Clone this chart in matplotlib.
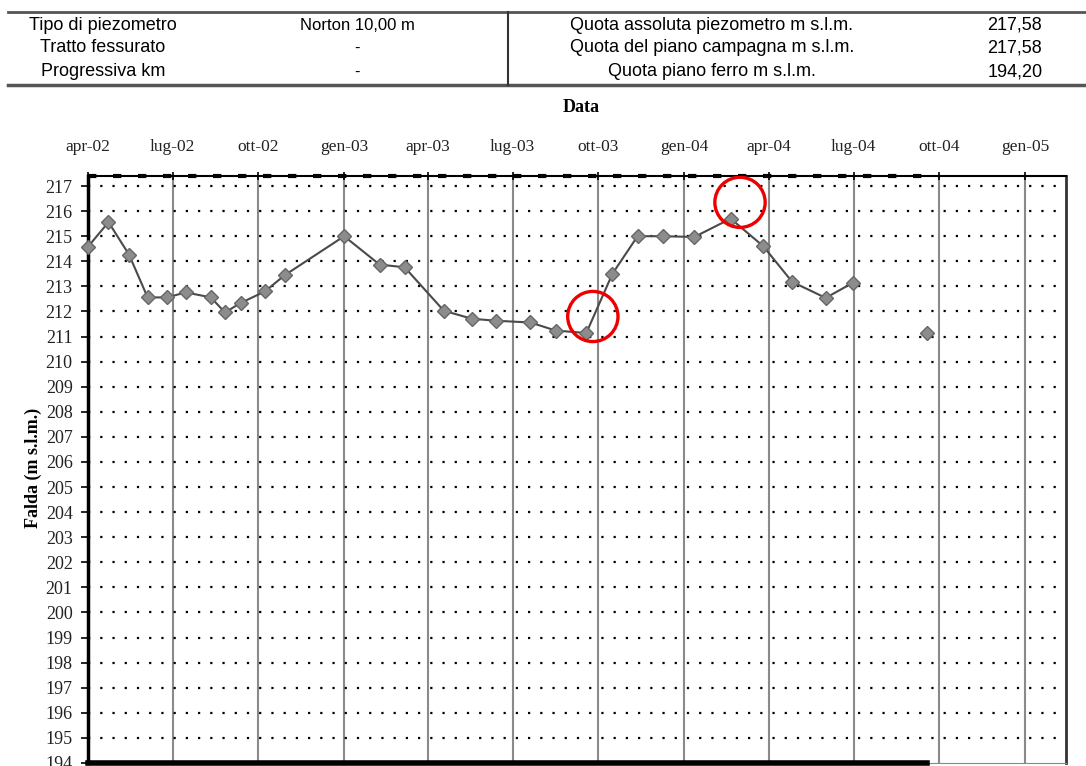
import matplotlib.pyplot as plt
import matplotlib.dates as mdates
from matplotlib.patches import Ellipse
import numpy as np
import pandas as pd

# header table
info_left_labels = ["Tipo di piezometro", "Tratto fessurato", "Progressiva km"]
info_left_values = ["Norton 10,00 m", "-", "-"]
info_right_labels = ["Quota assoluta piezometro m s.l.m.", "Quota del piano campagna m s.l.m.", "Quota piano ferro m s.l.m."]
info_right_values = ["217,58", "217,58", "194,20"]

quota_campagna = 217.58
quota_ferro = 194.20

# piezometer readings (nan = gap in the series)
dates = ["2002-04-01", "2002-04-23", "2002-05-15", "2002-06-04", "2002-06-25",
         "2002-07-15", "2002-08-11", "2002-08-26", "2002-09-12", "2002-10-08",
         "2002-10-29", "2003-01-01", "2003-02-08", "2003-03-07", "2003-04-18",
         "2003-05-18", "2003-06-13", "2003-07-20", "2003-08-16", "2003-09-18",
         "2003-10-16", "2003-11-12", "2003-12-09", "2004-01-12", "2004-02-20",
         "2004-03-26", "2004-04-26", "2004-06-01", "2004-06-30", "2004-08-01",
         "2004-09-18"]
falda = [214.58, 215.56, 214.27, 212.56, 212.56,
         212.76, 212.56, 211.96, 212.34, 212.80,
         213.44, 215.00, 213.87, 213.76, 212.03,
         211.71, 211.63, 211.56, 211.24, 211.14,
         213.50, 215.00, 215.00, 214.97, 215.70,
         214.60, 213.18, 212.54, 213.14, np.nan,
         211.14]

tick_dates = ["2002-04-01", "2002-07-01", "2002-10-01", "2003-01-01", "2003-04-01",
              "2003-07-01", "2003-10-01", "2004-01-01", "2004-04-01", "2004-07-01",
              "2004-10-01", "2005-01-01"]
tick_labels = ["apr-02", "lug-02", "ott-02", "gen-03", "apr-03", "lug-03",
               "ott-03", "gen-04", "apr-04", "lug-04", "ott-04", "gen-05"]

# red circles highlighting two points
circle_dates = ["2003-09-25", "2004-03-01"]
circle_levels = [211.80, 216.35]

dates = pd.to_datetime(dates)
tick_dates = pd.to_datetime(tick_dates)
circle_dates = pd.to_datetime(circle_dates)

fig = plt.figure(figsize=(10.86, 7.66), dpi=100)

# ---- table on top ----
sans = "Liberation Sans"
tab_top = 1 - 12 / 766
tab_bot = 1 - 85 / 766
fig.add_artist(plt.Line2D([8 / 1086, 1], [tab_top, tab_top], color="#555555", lw=2))
fig.add_artist(plt.Line2D([8 / 1086, 1], [tab_bot, tab_bot], color="#555555", lw=2.5))
fig.add_artist(plt.Line2D([508 / 1086, 508 / 1086], [tab_top, tab_bot], color="#333333", lw=1.5))
row_y = [25, 48, 72]
for i in range(3):
    y = 1 - row_y[i] / 766
    fig.text(103 / 1086, y, info_left_labels[i], ha="center", va="center", family=sans, fontsize=13)
    fig.text(357 / 1086, y, info_left_values[i], ha="center", va="center", family=sans, fontsize=12)
    fig.text(712 / 1086, y, info_right_labels[i], ha="center", va="center", family=sans, fontsize=13)
    fig.text(1015 / 1086, y, info_right_values[i], ha="center", va="center", family=sans, fontsize=13)

# ---- chart ----
ax = fig.add_axes([88 / 1086, 3 / 766, 978 / 1086, (763 - 176) / 766])
x0 = pd.Timestamp("2002-04-01")
x1 = pd.Timestamp("2005-02-14")
ylo, yhi = 194, 217.4
ax.set_xlim(x0, x1)
ax.set_ylim(ylo, yhi)

# grid: solid gray verticals at quarters, dotted horizontals every metre
for d in tick_dates:
    ax.axvline(d, color="#8a8a8a", lw=1.5, zorder=1)
for v in range(195, 218):
    ax.axhline(v, color="black", lw=1.6, ls=(0, (1, 4.5)), zorder=1)

# ground level (dashed) and rail level (thick) reference lines
ax.plot([dates[0], dates[-1]], [min(quota_campagna, yhi)] * 2, color="black", lw=3,
        ls=(0, (2, 4)), clip_on=False, zorder=3)
ax.plot([dates[0], dates[-1]], [max(quota_ferro - 0.2, ylo)] * 2, color="black", lw=4,
        clip_on=False, zorder=3)

ax.plot(dates, falda, color="#4a4a4a", lw=1.5, marker="D", markersize=7,
        markerfacecolor="#8c8c8c", markeredgecolor="#666666", zorder=4, clip_on=False)

for cd, cl in zip(circle_dates, circle_levels):
    e = Ellipse((mdates.date2num(cd), cl), width=54, height=2.0, fill=False,
                edgecolor="#ee0000", lw=2.4, zorder=5)
    ax.add_patch(e)

ax.xaxis.tick_top()
ax.set_xticks(tick_dates)
ax.set_xticklabels(tick_labels)
ax.set_yticks(range(194, 218))
serif = "Liberation Serif"
ax.tick_params(axis="x", direction="inout", length=6, width=1.2, pad=12, labelsize=12.5)
ax.tick_params(axis="y", direction="out", length=5, width=1.2, pad=6, labelsize=13)
for lab in ax.get_xticklabels() + ax.get_yticklabels():
    lab.set_family(serif)
    lab.set_color("#222222")

ax.spines["left"].set_linewidth(2.5)
ax.spines["top"].set_linewidth(1.5)
ax.spines["right"].set_linewidth(2)
ax.spines["right"].set_color("#333333")
ax.spines["bottom"].set_color("#888888")

fig.text(581 / 1086, 1 - 108 / 766, "Data", ha="center", va="center", family=serif,
         fontweight="bold", fontsize=13)
fig.text(33 / 1086, 1 - 468 / 766, "Falda (m s.l.m.)", ha="center", va="center", family=serif,
         fontweight="bold", fontsize=13, rotation=90)

fig.savefig("out.png", dpi=100)
